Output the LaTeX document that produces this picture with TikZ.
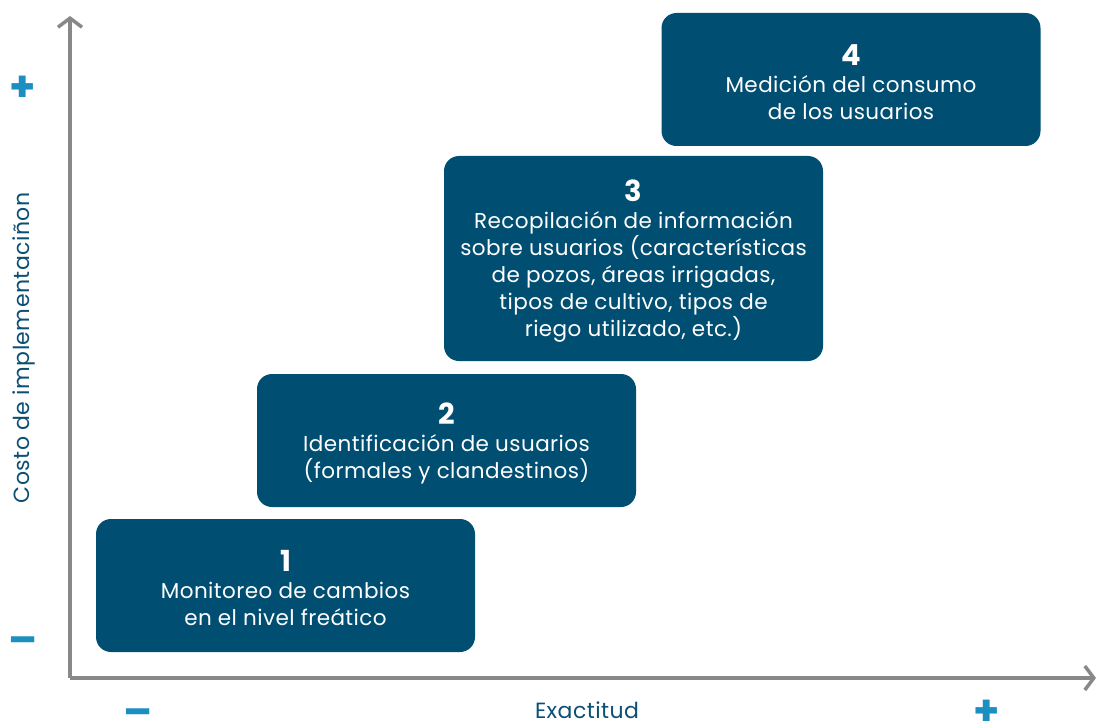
\documentclass[tikz,border=0pt]{standalone}
\usepackage{fontspec}
\setmainfont{Poppins}[LetterSpace=2]
\usetikzlibrary{arrows.meta}
\definecolor{boxblue}{HTML}{004E71}
\definecolor{axisgray}{HTML}{888888}
\definecolor{signblue}{HTML}{1A8FC0}
\definecolor{labelblue}{HTML}{0B4F75}
\tikzset{
  stepbox/.style={fill=boxblue, rounded corners=15pt, text=white, align=center,
    minimum width=379pt, minimum height=133pt, inner sep=0pt,
    font=\fontsize{21.5}{27}\selectfont},
  axisline/.style={draw=axisgray, line width=3.5pt,
    -{Straight Barb[length=9pt, width=24pt, line width=3.5pt]}},
  sign/.style={text=signblue, font=\fontsize{42}{42}\bfseries\selectfont, inner sep=0pt},
  axlabel/.style={text=labelblue, font=\fontsize{22}{24}\selectfont, inner sep=0pt},
}
\newcommand{\stepnum}[1]{{\fontsize{29}{30}\selectfont\bfseries\rule{0pt}{27pt}#1}}
\begin{document}
\begin{tikzpicture}[x=1pt,y=-1pt]
\useasboundingbox (0,0) rectangle (1099,722);
\coordinate (origin) at (70,678);
\coordinate (ytip) at (70,16);
\coordinate (xtip) at (1096,678);
\draw[axisline] (origin) -- (ytip);
\draw[axisline] (origin) -- (xtip);

\node[stepbox] (b1) at (285.5,585.5) {\stepnum{1}\\[0pt]Monitoreo de cambios\\en el nivel freático};
\node[stepbox] (b2) at (446.5,440.5) {\stepnum{2}\\[0pt]Identificación de usuarios\\(formales y clandestinos)};
\node[stepbox, minimum height=205pt] (b3) at (633.5,258.5) {\stepnum{3}\\[0pt]Recopilación de información\\sobre usuarios (características\\de pozos, áreas irrigadas,\\tipos de cultivo, tipos de\\riego utilizado, etc.)};
\node[stepbox] (b4) at (851,79.5) {\stepnum{4}\\[0pt]Medición del consumo\\de los usuarios};

\node[sign] (yplus) at (23,89) {+};
\node[sign] (yminus) at (23,646) {–};
\node[sign] (xminus) at (138,718) {–};
\node[sign] (xplus) at (987,713) {+};
\node[axlabel, anchor=base] (xlabel) at (587,718) {Exactitud};
\node[axlabel, rotate=90] (ylabel) at (24,348) {Costo de implementaciñon};
\end{tikzpicture}
\end{document}
